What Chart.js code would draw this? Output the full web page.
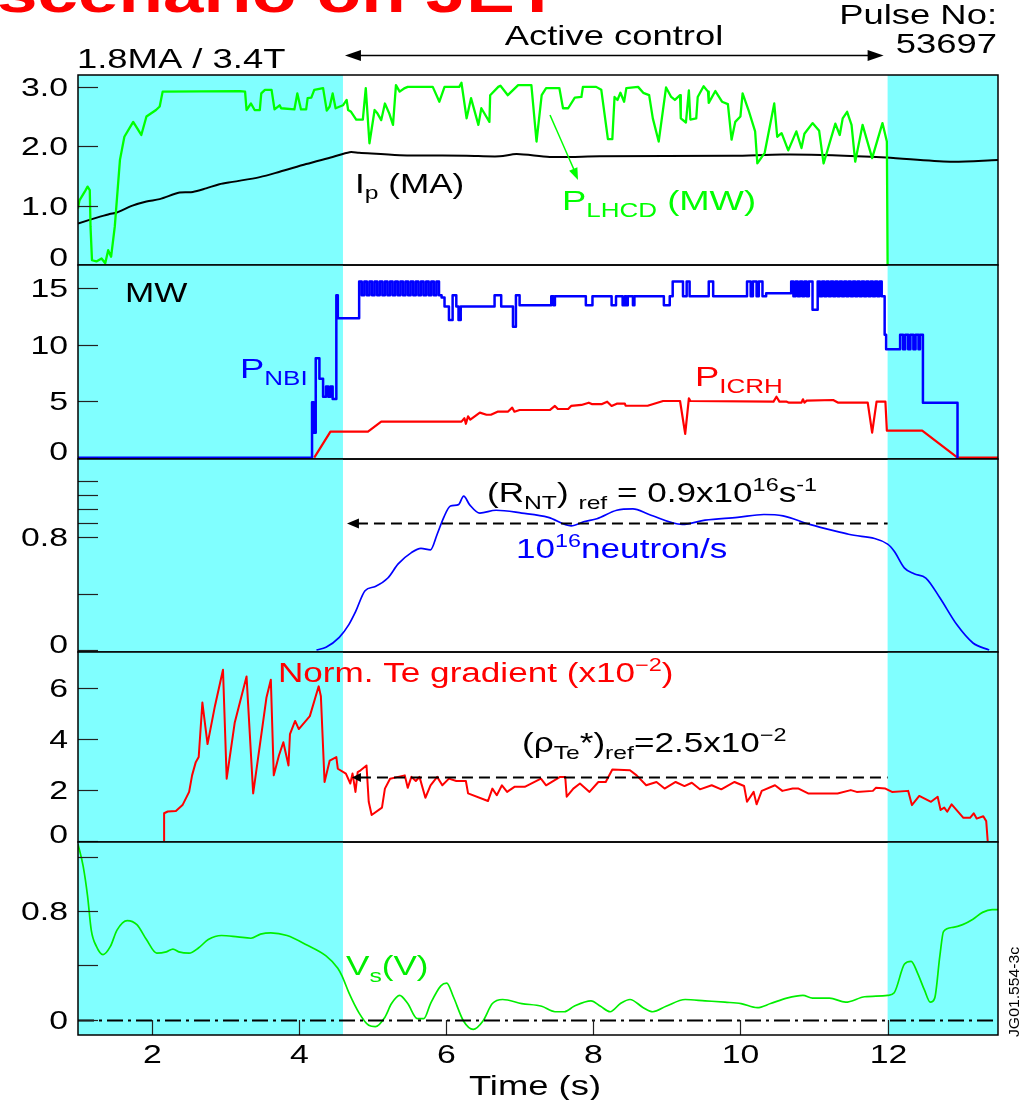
<!DOCTYPE html>
<html><head><meta charset="utf-8">
<script src="https://cdn.jsdelivr.net/npm/chart.js@4.4.0/dist/chart.umd.min.js"></script>
<style>
html,body{margin:0;padding:0;background:#fff;}
#wrap{position:relative;width:1021px;height:1100px;overflow:hidden;background:#fff;}
#wrap canvas{position:absolute;left:0;top:0;width:1021px;height:1100px;}
</style></head><body>
<div id="wrap">
<canvas id="c1" width="1021" height="1100"></canvas>
<canvas id="c2" width="1021" height="1100"></canvas>
<canvas id="c3" width="1021" height="1100"></canvas>
<canvas id="c4" width="1021" height="1100"></canvas>
<canvas id="c5" width="1021" height="1100"></canvas>
</div>
<script>
// ---------- DATA (time in s) ----------
const timeRange = [1, 13.5];
const timeTicks = [2, 4, 6, 8, 10, 12];
const shadeRegions = [[1, 4.6], [12, 13.5]];
const activeControl = [4.6, 12];

// Panel 1: P_LHCD (MW) and Ip (MA)
const pLHCD = [[1.00,0.95],[1.02,1.09],[1.09,1.23],[1.13,1.32],[1.16,1.26],[1.17,0.65],[1.19,0.08],[1.25,0.06],[1.32,0.11],[1.37,0.03],[1.41,0.25],[1.45,0.14],[1.50,0.65],[1.57,1.77],[1.63,2.16],[1.75,2.41],[1.86,2.19],[1.93,2.50],[2.06,2.61],[2.11,2.67],[2.15,2.92],[3.20,2.93],[3.27,2.92],[3.29,2.61],[3.35,2.72],[3.40,2.61],[3.47,2.61],[3.49,2.89],[3.54,2.95],[3.63,2.95],[3.67,2.62],[3.74,2.69],[3.76,2.64],[3.94,2.62],[3.98,2.89],[4.03,2.62],[4.10,2.62],[4.12,2.81],[4.17,2.82],[4.21,2.95],[4.33,2.98],[4.38,2.60],[4.42,2.67],[4.46,2.89],[4.50,2.64],[4.60,2.69],[4.65,2.78],[4.67,2.61],[4.71,2.58],[4.78,2.45],[4.87,2.45],[4.91,2.98],[4.96,2.05],[5.03,2.61],[5.07,2.55],[5.12,2.44],[5.17,2.72],[5.23,2.55],[5.28,2.36],[5.32,3.03],[5.37,2.92],[5.44,2.98],[5.48,3.00],[5.82,3.00],[5.91,2.75],[5.98,3.00],[6.18,3.00],[6.21,3.07],[6.28,2.47],[6.34,2.81],[6.44,2.36],[6.48,2.64],[6.59,2.41],[6.60,2.86],[6.71,3.00],[6.74,3.02],[6.84,2.86],[6.98,3.03],[7.16,3.03],[7.23,2.08],[7.30,2.86],[7.36,2.98],[7.54,2.98],[7.59,2.64],[7.66,2.64],[7.75,2.82],[7.84,2.83],[7.86,3.00],[8.04,3.00],[8.11,2.95],[8.20,2.12],[8.26,2.12],[8.29,2.83],[8.33,2.78],[8.37,2.90],[8.42,2.75],[8.45,2.98],[8.61,3.00],[8.68,2.90],[8.76,2.86],[8.81,2.47],[8.89,2.08],[8.99,2.99],[9.06,2.83],[9.11,2.78],[9.18,2.86],[9.19,2.47],[9.26,2.40],[9.30,2.94],[9.32,2.45],[9.40,2.47],[9.42,2.83],[9.50,3.01],[9.56,2.92],[9.57,2.73],[9.66,2.93],[9.75,2.75],[9.83,2.71],[9.88,2.11],[9.93,2.41],[10.00,2.50],[10.03,2.89],[10.11,2.61],[10.20,2.25],[10.23,1.71],[10.33,1.89],[10.46,2.72],[10.50,2.16],[10.56,2.22],[10.65,1.93],[10.76,2.25],[10.83,1.97],[10.87,2.21],[10.98,2.39],[11.07,2.26],[11.13,1.71],[11.29,2.38],[11.35,2.19],[11.39,2.47],[11.45,2.58],[11.51,2.36],[11.56,1.74],[11.66,2.36],[11.79,1.80],[11.93,2.39],[11.99,2.08],[12.00,0.00]];
const plasmaCurrent = [[1.00,0.70],[1.29,0.81],[1.43,0.86],[1.52,0.88],[1.74,1.00],[1.93,1.07],[2.11,1.11],[2.38,1.22],[2.56,1.23],[2.74,1.29],[2.92,1.36],[3.10,1.40],[3.47,1.48],[3.74,1.57],[4.10,1.70],[4.46,1.82],[4.69,1.90],[4.82,1.89],[5.37,1.85],[6.28,1.84],[6.73,1.83],[6.96,1.87],[7.41,1.82],[8.09,1.83],[9.90,1.84],[10.57,1.86],[11.25,1.85],[11.98,1.81],[12.85,1.74],[13.50,1.77]];

// Panel 2: P_NBI (stepped) and P_ICRH (MW)
const pNBI = [[1.00,0],[4.18,0],[4.18,4.9],[4.20,2.2],[4.23,8.8],[4.28,7.0],[4.33,5.4],[4.37,6.3],[4.40,5.4],[4.43,6.3],[4.46,5.2],[4.51,14.4],[4.53,12.35],[4.82,15.6],[4.855,14.4],[4.89,15.6],[4.925,14.4],[4.96,15.6],[4.995,14.4],[5.03,15.6],[5.065,14.4],[5.10,15.6],[5.135,14.4],[5.17,15.6],[5.205,14.4],[5.24,15.6],[5.275,14.4],[5.31,15.6],[5.345,14.4],[5.38,15.6],[5.415,14.4],[5.45,15.6],[5.485,14.4],[5.52,15.6],[5.555,14.4],[5.59,15.6],[5.625,14.4],[5.66,15.6],[5.695,14.4],[5.73,15.6],[5.765,14.4],[5.80,15.6],[5.835,14.4],[5.87,15.6],[5.905,14.4],[5.94,14.2],[5.98,13.4],[6.04,12.2],[6.09,14.4],[6.14,13.4],[6.17,12.2],[6.20,13.4],[6.66,14.4],[6.75,13.4],[6.91,11.6],[6.95,14.4],[7.00,13.5],[7.43,14.3],[7.46,13.5],[7.48,14.3],[7.90,13.5],[7.99,14.3],[8.25,13.5],[8.31,14.3],[8.40,13.5],[8.43,14.3],[8.45,13.5],[8.47,14.3],[8.54,13.5],[8.56,14.3],[8.96,13.5],[9.04,14.3],[9.08,15.6],[9.22,14.3],[9.27,15.6],[9.31,14.3],[9.57,15.6],[9.63,14.3],[10.09,15.6],[10.14,14.3],[10.17,15.6],[10.22,14.3],[10.25,15.6],[10.30,14.3],[10.35,14.56],[10.69,15.6],[10.72,14.3],[10.75,15.6],[10.78,14.3],[10.81,15.6],[10.84,14.3],[10.87,15.6],[10.90,14.3],[10.93,15.6],[10.98,13.1],[11.05,15.6],[11.08,14.3],[11.11,15.6],[11.14,14.3],[11.17,15.6],[11.20,14.3],[11.23,15.6],[11.26,14.3],[11.29,15.6],[11.32,14.3],[11.35,15.6],[11.38,14.3],[11.41,15.6],[11.44,14.3],[11.47,15.6],[11.50,14.3],[11.53,15.6],[11.56,14.3],[11.59,15.6],[11.62,14.3],[11.65,15.6],[11.68,14.3],[11.71,15.6],[11.74,14.3],[11.77,15.6],[11.80,14.3],[11.83,15.6],[11.86,14.3],[11.89,15.6],[11.92,14.3],[11.96,10.9],[11.98,9.6],[12.17,10.9],[12.21,9.6],[12.24,10.9],[12.28,9.6],[12.31,10.9],[12.35,9.6],[12.38,10.9],[12.42,9.6],[12.44,10.9],[12.48,4.87],[12.95,0],[12.96,0]];
const pICRH = [[4.21,0],[4.43,2.30],[4.94,2.30],[5.12,3.19],[6.21,3.19],[6.25,3.49],[6.27,3.00],[6.30,3.66],[6.33,3.37],[6.46,3.99],[6.55,3.80],[6.61,3.80],[6.70,4.07],[6.84,4.07],[6.90,4.43],[6.93,4.07],[7.00,4.22],[7.41,4.22],[7.48,4.58],[7.52,4.31],[7.66,4.31],[7.70,4.58],[7.84,4.67],[7.94,4.87],[7.98,4.75],[8.12,4.75],[8.19,4.96],[8.25,4.58],[8.32,4.78],[8.43,4.78],[8.44,4.60],[8.74,4.60],[8.95,5.02],[9.18,5.02],[9.25,2.10],[9.30,5.26],[9.32,5.02],[10.45,4.96],[10.49,5.40],[10.53,4.96],[10.63,4.96],[10.66,4.87],[10.83,4.87],[10.85,5.17],[10.87,4.87],[10.90,5.05],[11.26,5.11],[11.33,4.87],[11.73,4.87],[11.79,2.21],[11.85,4.96],[11.97,4.96],[11.99,2.39],[12.47,2.39],[12.95,0],[13.50,0]];

// Panel 3: neutron rate (1e16 /s) and reference
const neutronRate = [[4.24,0],[4.37,0.02],[4.55,0.09],[4.68,0.18],[4.77,0.27],[4.90,0.42],[5.04,0.45],[5.21,0.51],[5.35,0.61],[5.53,0.69],[5.66,0.72],[5.79,0.71],[5.88,0.82],[5.97,0.94],[6.06,1.02],[6.17,1.03],[6.24,1.09],[6.32,1.03],[6.46,0.97],[6.68,0.99],[7.03,0.97],[7.39,0.94],[7.70,0.88],[7.88,0.91],[8.05,0.93],[8.32,0.99],[8.54,1.00],[8.76,0.96],[9.21,0.89],[9.52,0.92],[9.96,0.94],[10.32,0.96],[10.58,0.95],[10.94,0.89],[11.47,0.82],[12.00,0.75],[12.09,0.70],[12.23,0.58],[12.36,0.54],[12.52,0.51],[12.71,0.37],[12.94,0.18],[13.16,0.05],[13.38,0]];
const neutronRef = 0.9;

// Panel 4: normalised Te gradient (x1e-2) and reference
const teGradient = [[2.17,0],[2.17,1.09],[2.22,1.16],[2.33,1.18],[2.42,1.41],[2.51,1.93],[2.55,2.58],[2.60,3.10],[2.64,3.30],[2.69,5.44],[2.76,3.81],[2.86,5.30],[2.97,6.73],[3.02,2.45],[3.13,4.66],[3.29,6.47],[3.38,1.87],[3.56,5.63],[3.62,6.34],[3.66,2.58],[3.73,3.36],[3.79,3.88],[3.86,2.97],[3.88,4.20],[3.95,4.72],[4.00,4.40],[4.15,4.91],[4.27,6.08],[4.30,5.69],[4.35,2.32],[4.42,3.16],[4.51,3.30],[4.53,2.84],[4.64,2.65],[4.70,2.26],[4.73,2.65],[4.77,1.93],[4.80,2.71],[4.84,2.78],[4.92,2.97],[4.95,1.54],[4.99,1.02],[5.13,1.31],[5.17,2.06],[5.24,2.45],[5.35,2.52],[5.44,2.58],[5.48,2.09],[5.53,2.52],[5.59,2.36],[5.64,2.52],[5.72,1.70],[5.79,2.19],[5.88,2.52],[5.95,2.19],[6.04,2.45],[6.14,2.36],[6.27,2.36],[6.30,1.87],[6.57,1.57],[6.63,2.06],[6.69,1.80],[6.76,2.19],[6.83,1.93],[6.93,2.13],[7.07,2.13],[7.29,2.45],[7.36,2.19],[7.55,2.52],[7.62,2.52],[7.64,1.74],[7.73,2.06],[7.82,2.26],[7.95,1.93],[8.07,2.32],[8.17,2.32],[8.26,2.81],[8.50,2.78],[8.59,2.58],[8.72,2.19],[8.86,2.32],[8.97,2.06],[9.12,2.32],[9.24,2.16],[9.34,2.29],[9.45,2.03],[9.61,2.19],[9.74,2.03],[9.92,2.32],[10.05,2.16],[10.09,1.54],[10.18,1.93],[10.22,1.44],[10.29,1.97],[10.47,2.19],[10.57,1.97],[10.71,2.06],[10.79,2.06],[10.92,1.87],[11.32,1.87],[11.50,2.00],[11.58,1.93],[11.80,1.97],[11.84,2.09],[11.97,2.06],[12.06,1.93],[12.28,1.97],[12.33,1.41],[12.43,1.77],[12.59,1.54],[12.68,1.74],[12.72,1.22],[12.77,1.31],[12.81,1.15],[12.87,1.44],[13.03,0.91],[13.12,0.91],[13.17,1.09],[13.21,0.88],[13.30,0.97],[13.34,0.78],[13.36,0]];
const teGradientRef = 2.5;

// Panel 5: surface loop voltage Vs (V)
const loopVoltage = [[1.00,1.29],[1.07,1.13],[1.13,0.91],[1.18,0.66],[1.25,0.54],[1.34,0.48],[1.44,0.54],[1.53,0.66],[1.67,0.73],[1.80,0.70],[1.93,0.59],[2.07,0.49],[2.20,0.50],[2.29,0.52],[2.37,0.50],[2.51,0.49],[2.64,0.53],[2.77,0.59],[2.95,0.62],[3.17,0.61],[3.35,0.60],[3.48,0.63],[3.62,0.64],[3.84,0.62],[4.11,0.55],[4.37,0.47],[4.53,0.38],[4.59,0.32],[4.68,0.20],[4.82,0.05],[4.95,-0.04],[5.04,-0.05],[5.17,0.02],[5.26,0.12],[5.37,0.18],[5.48,0.12],[5.61,0.01],[5.70,0.01],[5.79,0.12],[5.93,0.25],[6.01,0.27],[6.10,0.17],[6.24,-0.01],[6.37,-0.07],[6.50,-0.01],[6.63,0.12],[6.77,0.15],[7.03,0.12],[7.30,0.10],[7.48,0.06],[7.61,0.06],[7.74,0.10],[7.97,0.14],[8.10,0.10],[8.23,0.06],[8.37,0.12],[8.50,0.15],[8.68,0.09],[8.81,0.06],[8.99,0.10],[9.25,0.15],[9.52,0.14],[9.79,0.13],[10.01,0.12],[10.23,0.09],[10.41,0.12],[10.63,0.16],[10.85,0.18],[10.98,0.16],[11.21,0.16],[11.43,0.13],[11.69,0.17],[12.00,0.18],[12.09,0.20],[12.23,0.41],[12.32,0.43],[12.41,0.34],[12.50,0.22],[12.58,0.13],[12.64,0.16],[12.71,0.47],[12.76,0.65],[12.89,0.68],[13.02,0.70],[13.16,0.74],[13.29,0.79],[13.42,0.81],[13.50,0.81]];

// Axis ticks per panel
const p1Ticks = [0, 1, 2, 3];          const p1Labels = [[0,'0'],[1,'1.0'],[2,'2.0'],[3,'3.0']];
const p2Ticks = [0, 5, 10, 15];        const p2Labels = [[0,'0'],[5,'5'],[10,'10'],[15,'15']];
const p3Ticks = [0, 0.4, 0.8, 0.9, 1.0, 1.1, 1.2]; const p3Labels = [[0,'0'],[0.8,'0.8']];
const p4Ticks = [0, 2, 4, 6];          const p4Labels = [[0,'0'],[2,'2'],[4,'4'],[6,'6']];
const p5Ticks = [0, 0.4, 0.8, 1.2];    const p5Labels = [[0,'0'],[0.8,'0.8']];

// ---------- LAYOUT / STYLE ----------
const W = 1021, H = 1100, PLOT_L = 78, PLOT_R = 998;
const SHADE = '#80ffff';
const FAM = '"Liberation Sans", Arial, Helvetica, sans-serif';
const SX = 1.3;

function rich(ctx, x, y, segs, color, align) {
  let w = 0;
  for (const s of segs) { ctx.font = (s[3]||'') + ' ' + s[1] + 'px ' + FAM; w += ctx.measureText(s[0]).width * SX; }
  let cx = align === 'center' ? x - w/2 : align === 'right' ? x - w : x;
  for (const s of segs) {
    ctx.save();
    ctx.font = (s[3]||'') + ' ' + s[1] + 'px ' + FAM;
    ctx.fillStyle = color; ctx.textBaseline = 'alphabetic'; ctx.textAlign = 'left';
    const sw = ctx.measureText(s[0]).width * SX;
    ctx.translate(cx, y + (s[2]||0)); ctx.scale(SX, 1);
    ctx.fillText(s[0], 0, 0);
    ctx.restore();
    cx += sw;
  }
}
function head(ctx, x, y, dir, len, half, color) {
  ctx.save(); ctx.fillStyle = color; ctx.beginPath();
  ctx.moveTo(x, y); ctx.lineTo(x - dir*len, y - half); ctx.lineTo(x - dir*len, y + half); ctx.closePath(); ctx.fill(); ctx.restore();
}

function makeDeco(spec) {
  return {
    id: 'deco',
    beforeDatasetsDraw(chart) {
      const { ctx, chartArea: a, scales: { x } } = chart;
      ctx.save(); ctx.fillStyle = SHADE;
      for (const [s, e] of shadeRegions) {
        const x0 = x.getPixelForValue(s), x1 = x.getPixelForValue(e);
        ctx.fillRect(x0, a.top, x1 - x0, a.bottom - a.top);
      }
      ctx.restore();
    },
    afterDatasetsDraw(chart) {
      const { ctx, chartArea: a, scales: { x, y } } = chart;
      if (spec.extra) spec.extra(chart, ctx, a, x, y);
      ctx.save();
      ctx.strokeStyle = '#222'; ctx.lineWidth = 1.2;
      for (const v of spec.ticks) {
        const py = Math.round(y.getPixelForValue(v)) + 0.5;
        ctx.beginPath(); ctx.moveTo(a.left, py); ctx.lineTo(a.left + 20, py); ctx.stroke();
      }
      if (spec.xTicks) {
        for (const v of spec.xTicks) {
          const px = Math.round(x.getPixelForValue(v)) + 0.5;
          ctx.beginPath(); ctx.moveTo(px, a.bottom); ctx.lineTo(px, a.bottom - 15); ctx.stroke();
          rich(ctx, px, 1063, [[String(v), 26]], '#000', 'center');
        }
        rich(ctx, (a.left + a.right)/2 - 3, 1095, [['Time (s)', 28]], '#000', 'center');
      }
      ctx.strokeStyle = '#000'; ctx.lineWidth = 1.5;
      ctx.strokeRect(a.left, a.top, a.right - a.left, a.bottom - a.top);
      ctx.restore();
      for (const [v, t] of spec.labels) {
        const py = Math.min(y.getPixelForValue(v), a.bottom - 8);
        rich(ctx, 68, py + 9, [[t, 26]], '#000', 'right');
      }
    }
  };
}

function line(data, color, width, extra) {
  return Object.assign({
    data: data.map(([t, v]) => ({ x: t, y: v })),
    borderColor: color, borderWidth: width, pointRadius: 0, fill: false, tension: 0,
    borderJoinStyle: 'round'
  }, extra || {});
}

function makeChart(id, rect, yRange, datasets, spec) {
  return new Chart(document.getElementById(id), {
    type: 'line',
    data: { datasets },
    options: {
      responsive: false, animation: false, devicePixelRatio: 1, events: [],
      layout: { padding: { left: PLOT_L, right: W - PLOT_R, top: rect[0], bottom: H - rect[1] } },
      plugins: { legend: { display: false }, tooltip: { enabled: false } },
      scales: {
        x: { type: 'linear', min: timeRange[0], max: timeRange[1], display: false },
        y: { type: 'linear', min: yRange[0], max: yRange[1], display: false }
      }
    },
    plugins: [makeDeco(spec)]
  });
}

// Panel 1
makeChart('c1', [75, 265], [0, 3.2], [
  line(pLHCD, '#00ff00', 2.3),
  line(plasmaCurrent, '#000000', 2, { tension: 0.3 })
], { ticks: p1Ticks, labels: p1Labels, extra(chart, ctx, a, x, y) {
  // header
  rich(ctx, -3, 12, [['scenario on JET', 56, 0, 'bold']], '#ff0000', 'left');
  rich(ctx, 77, 68, [['1.8MA / 3.4T', 28]], '#000', 'left');
  rich(ctx, 614, 45, [['Active control', 28]], '#000', 'center');
  rich(ctx, 997, 24, [['Pulse No:', 28]], '#000', 'right');
  rich(ctx, 997, 53, [['53697', 28]], '#000', 'right');
  const xl = x.getPixelForValue(activeControl[0]) + 2, xr = x.getPixelForValue(activeControl[1]) - 4;
  ctx.save(); ctx.strokeStyle = '#000'; ctx.lineWidth = 1.5;
  ctx.beginPath(); ctx.moveTo(xl + 10, 55.5); ctx.lineTo(xr - 10, 55.5); ctx.stroke(); ctx.restore();
  head(ctx, xl, 55.5, -1, 16, 5.5, '#000'); head(ctx, xr, 55.5, 1, 16, 5.5, '#000');
  // labels
  rich(ctx, 355, 193, [['I', 27], ['p', 19, 6], [' (MA)', 27]], '#000', 'left');
  rich(ctx, 562, 210, [['P', 28], ['LHCD', 20, 7], [' (MW)', 28]], '#00ff00', 'left');
  ctx.save(); ctx.strokeStyle = '#00ff00'; ctx.lineWidth = 1.5;
  ctx.beginPath(); ctx.moveTo(550, 115); ctx.lineTo(575, 172); ctx.stroke(); ctx.restore();
  ctx.save(); ctx.translate(578, 180); ctx.rotate(Math.atan2(65, 28)); head(ctx, 0, 0, 1, 12, 4.5, '#00ff00'); ctx.restore();
}});

// Panel 2
makeChart('c2', [265, 459], [-0.12, 17.07], [
  line(pNBI, '#0000ff', 2.5, { stepped: 'before' }),
  line(pICRH, '#ff0000', 2.2)
], { ticks: p2Ticks, labels: p2Labels, extra(chart, ctx) {
  rich(ctx, 125, 302, [['MW', 27]], '#000', 'left');
  rich(ctx, 240, 378, [['P', 28], ['NBI', 20, 7]], '#0000ff', 'left');
  rich(ctx, 695, 386, [['P', 28], ['ICRH', 20, 7]], '#ff0000', 'left');
}});

// Panel 3
makeChart('c3', [459, 652], [-0.014, 1.353], [
  line(neutronRate, '#0000ff', 1.7, { cubicInterpolationMode: 'monotone' })
], { ticks: p3Ticks, labels: p3Labels, extra(chart, ctx, a, x, y) {
  const py = Math.round(y.getPixelForValue(neutronRef)) + 0.5;
  const xl = x.getPixelForValue(activeControl[0]) + 4, xr = x.getPixelForValue(activeControl[1]);
  ctx.save(); ctx.strokeStyle = '#000'; ctx.lineWidth = 2; ctx.setLineDash([11, 6]);
  ctx.beginPath(); ctx.moveTo(xl + 10, py); ctx.lineTo(xr, py); ctx.stroke(); ctx.restore();
  head(ctx, xl, py, -1, 12, 5, '#000');
  rich(ctx, 487, 502, [['(R', 27], ['NT', 19, 7], [') ', 27], ['ref', 19, 7], [' = 0.9x10', 27], ['16', 18, -11], ['s', 27], ['-1', 18, -11]], '#000', 'left');
  rich(ctx, 516, 558, [['10', 27], ['16', 18, -11], ['neutron/s', 27]], '#0000ff', 'left');
}});

// Panel 4
makeChart('c4', [652, 842], [-0.04, 7.43], [
  line(teGradient, '#ff0000', 2)
], { ticks: p4Ticks, labels: p4Labels, extra(chart, ctx, a, x, y) {
  const py = Math.round(y.getPixelForValue(teGradientRef)) + 0.5;
  const xl = x.getPixelForValue(activeControl[0]) + 9, xr = x.getPixelForValue(activeControl[1]);
  ctx.save(); ctx.strokeStyle = '#000'; ctx.lineWidth = 2; ctx.setLineDash([11, 6]);
  ctx.beginPath(); ctx.moveTo(xl + 8, py); ctx.lineTo(xr, py); ctx.stroke(); ctx.restore();
  head(ctx, xl, py, -1, 9, 4.5, '#000');
  rich(ctx, 278, 682, [['Norm. Te gradient (x10', 27], ['\u22122', 18, -11], [')', 27]], '#ff0000', 'left');
  rich(ctx, 522, 752, [['(\u03c1', 27], ['Te', 19, 7], ['*)', 27], ['ref', 19, 7], ['=2.5x10', 27], ['\u22122', 18, -11]], '#000', 'left');
}});

// Panel 5
makeChart('c5', [842, 1035], [-0.111, 1.307], [
  line(loopVoltage, '#00ee00', 1.7, { cubicInterpolationMode: 'monotone' })
], { ticks: p5Ticks, labels: p5Labels, xTicks: timeTicks, extra(chart, ctx, a, x, y) {
  const py = Math.round(y.getPixelForValue(0)) + 0.5;
  ctx.save(); ctx.strokeStyle = '#000'; ctx.lineWidth = 2; ctx.setLineDash([16, 5, 3, 5]);
  ctx.beginPath(); ctx.moveTo(a.left, py); ctx.lineTo(a.right, py); ctx.stroke(); ctx.restore();
  rich(ctx, 346, 975, [['V', 27], ['s', 19, 7], ['(V)', 27]], '#00ee00', 'left');
  ctx.save(); ctx.font = '15px ' + FAM; ctx.fillStyle = '#000';
  ctx.translate(1019, 1037); ctx.rotate(-Math.PI/2); ctx.scale(1.05, 1); ctx.fillText('JG01.554-3c', 0, 0); ctx.restore();
}});
</script>
</body></html>
